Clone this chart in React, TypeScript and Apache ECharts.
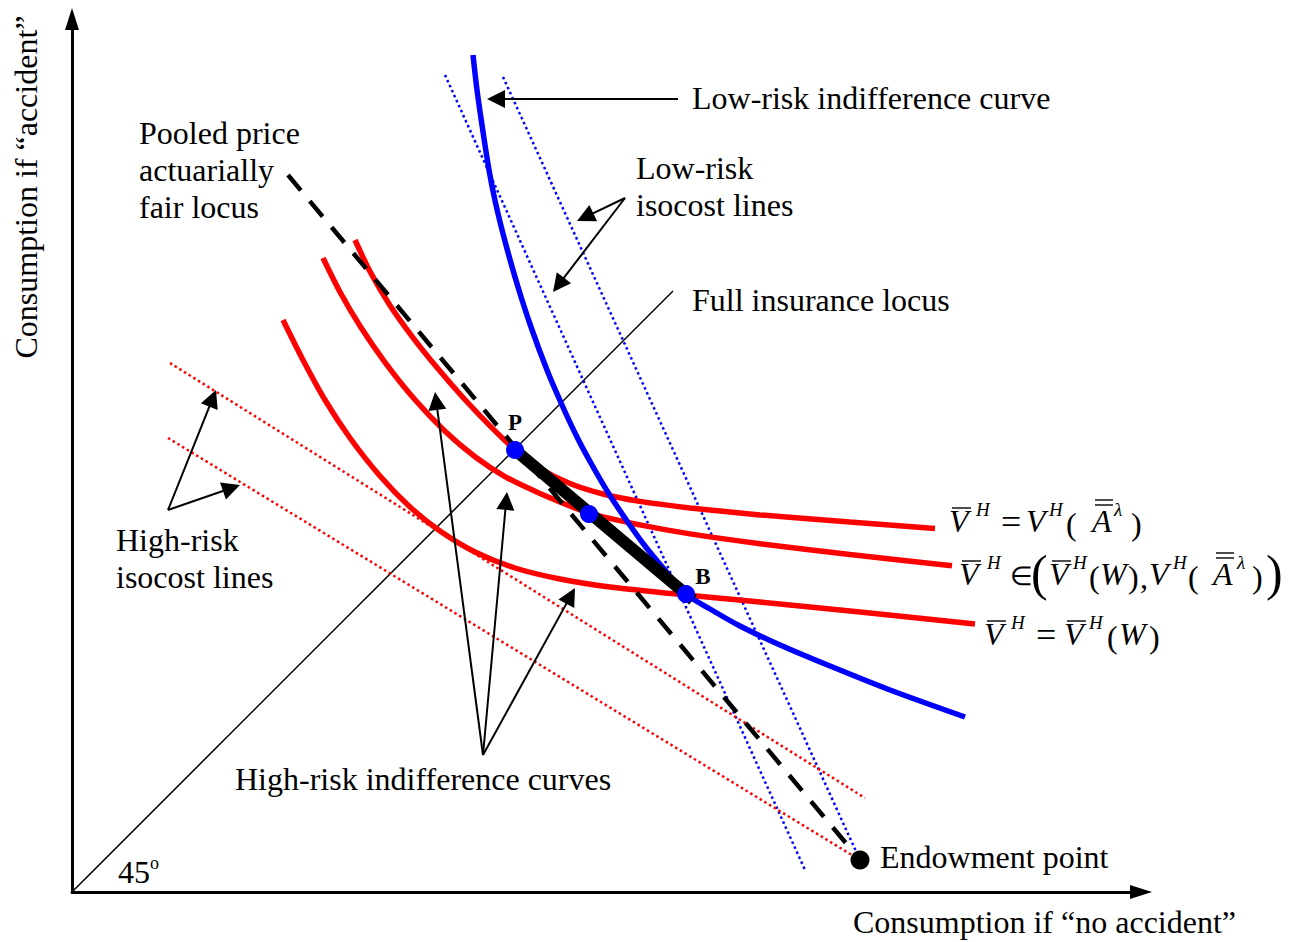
import React, { useEffect, useRef } from "react";
import * as echarts from "echarts";

const FONT = "'Liberation Serif', 'Times New Roman', serif";

// Diagram units: origin at the axes' intersection, 1 unit = 1 screen pixel.
const lowRiskIC: [number, number][] = [
  [401, 837], [405, 802], [410, 767], [417, 722], [424, 687], [434, 647], [446, 605],
  [459, 565], [475, 522], [490, 487], [505, 455], [520, 427], [537, 398], [555, 371],
  [573, 346], [592, 323], [614, 298], [638, 283], [668, 266], [708, 247], [758, 226],
  [818, 202], [893, 175],
];
const highRiskICTop: [number, number][] = [
  [283, 652], [298, 620.5], [318, 586.5], [340, 555.7], [365, 524.4], [391, 494.5],
  [418, 466.1], [443, 442.3], [468, 423.5], [498, 408.5], [531, 398], [568, 390.6],
  [618, 384.1], [688, 377.1], [778, 369.9], [863, 363.5],
];
const highRiskICMid: [number, number][] = [
  [251, 634], [268, 600], [288, 566], [313, 529.7], [343, 492.2], [373, 460.7],
  [403, 435.2], [433, 415.4], [468, 398.6], [518, 378.6], [568, 367.1], [618, 358.1],
  [688, 348.3], [778, 337.5], [880, 326.3],
];
const highRiskICLow: [number, number][] = [
  [211, 572], [231, 532], [253, 492], [278, 454], [308, 416], [338, 385], [368, 361],
  [403, 340], [443, 324], [488, 313], [538, 305], [614, 297], [688, 290], [788, 280],
  [903, 268],
];
const pooledLocus: [number, number][] = [[216, 717], [788, 32]];
const fullInsurance: [number, number][] = [[0, 0], [601, 601]];
const lowIsocostA: [number, number][] = [[373, 817], [733, 22]];
const lowIsocostB: [number, number][] = [[431, 815], [788, 32]];
const highIsocostA: [number, number][] = [[98, 529], [793, 94]];
const highIsocostB: [number, number][] = [[96, 454], [788, 32]];
const contractSegment: [number, number][] = [[443, 442], [621, 292]];
const bluePoints: [number, number][] = [[443, 442], [517, 378], [614, 298]];
const endowment: [number, number][] = [[788, 32]];

type Seg = [[number, number], [number, number]];
const arrowLowIC: Seg[] = [[[606, 793], [415, 793]]];
const arrowsLowIso: Seg[] = [[[553, 694], [505, 671]], [[553, 694], [481, 600]]];
const arrowsHighIso: Seg[] = [[[96, 382], [144, 502]], [[96, 382], [168, 407]]];
const arrowsHighIC: Seg[] = [
  [[411, 137], [363, 500]], [[411, 137], [435, 400]], [[411, 137], [503, 304]],
];

// Formula glyphs: [text, x, dy from formula centre, style]
type Tok = [string, number, number, string];
const formula1: Tok[] = [
  ["V", 949, 0, "i"], ["H", 976, -12, "s"], ["=", 1001, 1, "e"], ["V", 1026, 0, "i"],
  ["H", 1049, -12, "s"], ["(", 1066, 3, "n"], ["A", 1092, 0, "i"], ["\u03BB", 1114, -12, "s"],
  [")", 1131, 3, "n"],
];
const formula1Bars: [number, number, number][] = [[952, 971, -13], [1095, 1113, -21], [1095, 1113, -16]];
const formula2: Tok[] = [
  ["V", 959, 0, "i"], ["H", 987, -12, "s"], ["\u2208", 1010, 2, "m"], ["(", 1031, -1, "p"],
  ["V", 1049, 0, "i"], ["H", 1073, -12, "s"], ["(", 1089, 3, "n"], ["W", 1100, 0, "i"],
  [")", 1128, 3, "n"], [",", 1140, 3, "n"], ["V", 1149, 0, "i"], ["H", 1173, -12, "s"],
  ["(", 1188, 3, "n"], ["A", 1213, 0, "i"], ["\u03BB", 1237, -12, "s"], [")", 1252, 3, "n"],
  [")", 1266, -1, "p"],
];
const formula2Bars: [number, number, number][] = [
  [962, 981, -13], [1052, 1071, -13], [1216, 1234, -21], [1216, 1234, -16],
];
const formula3: Tok[] = [
  ["V", 984, 0, "i"], ["H", 1011, -12, "s"], ["=", 1036, 1, "e"], ["V", 1064, 0, "i"],
  ["H", 1089, -12, "s"], ["(", 1107, 3, "n"], ["W", 1119, 0, "i"], [")", 1149, 3, "n"],
];
const formula3Bars: [number, number, number][] = [[987, 1006, -13], [1067, 1086, -13]];

const ARROW_LEN = 18;
function toArrowData(segs: Seg[]) {
  return segs.map(([a, b]) => {
    const dx = b[0] - a[0];
    const dy = b[1] - a[1];
    const len = Math.sqrt(dx * dx + dy * dy);
    const k = (len - ARROW_LEN / 2) / len;
    return { coords: [a, [a[0] + dx * k, a[1] + dy * k]] };
  });
}

function lineSeries(data: [number, number][], color: string, width: number, type: any = "solid", smooth: any = false, z = 2) {
  return {
    type: "line",
    data,
    smooth,
    z,
    symbol: "none",
    showSymbol: false,
    clip: false,
    silent: true,
    lineStyle: { color, width, type, cap: "butt" },
  };
}

const text = (t: string, x: number, y: number, extra: any = {}, rotation = 0) => ({
  type: "text",
  x,
  y,
  rotation,
  silent: true,
  style: {
    text: t,
    fontSize: 32,
    fontFamily: FONT,
    fill: "#000",
    align: "left",
    verticalAlign: "middle",
    lineHeight: 37,
    ...extra,
  },
});

const tokStyles: Record<string, any> = {
  i: { fontSize: 32, fontStyle: "italic" },
  n: { fontSize: 32 },
  e: { fontSize: 36 },
  m: { fontSize: 26 },
  s: { fontSize: 19, fontStyle: "italic" },
  p: { fontSize: 50 },
};

function formulaGraphics(tokens: Tok[], bars: [number, number, number][], cy: number) {
  const out: any[] = tokens.map(([t, x, dy, st]) => text(t, x, cy + dy, tokStyles[st]));
  bars.forEach(([x1, x2, dy]) => {
    out.push({
      type: "line",
      silent: true,
      shape: { x1, y1: cy + dy, x2, y2: cy + dy },
      style: { stroke: "#000", lineWidth: 1.4 },
    });
  });
  return out;
}

export default function App() {
  const ref = useRef<HTMLDivElement>(null);
  useEffect(() => {
    const chart = echarts.init(ref.current!, null, { renderer: "svg" });
    const axisCommon = {
      type: "value",
      splitLine: { show: false },
      axisTick: { show: false },
      axisLabel: { show: false },
      axisLine: {
        show: true,
        onZero: false,
        symbol: ["none", "triangle"],
        symbolSize: [14, 22],
        lineStyle: { color: "#000", width: 3 },
      },
    };
    chart.setOption({
      animation: false,
      backgroundColor: "#fff",
      grid: { left: 72, top: 19, right: 152, bottom: 50 },
      xAxis: { ...axisCommon, min: 0, max: 1069 },
      yAxis: { ...axisCommon, min: 0, max: 873 },
      series: [
        lineSeries(fullInsurance, "#000", 1.5),
        lineSeries(lowIsocostA, "#0000ff", 2.5, [2.5, 3]),
        lineSeries(lowIsocostB, "#0000ff", 2.5, [2.5, 3]),
        lineSeries(highIsocostA, "#ff0000", 2.5, [2.5, 3]),
        lineSeries(highIsocostB, "#ff0000", 2.5, [2.5, 3]),
        lineSeries(highRiskICTop, "#ff0000", 5.5, "solid", 0.25),
        lineSeries(highRiskICMid, "#ff0000", 5.5, "solid", 0.25),
        lineSeries(highRiskICLow, "#ff0000", 5.5, "solid", 0.25),
        lineSeries(lowRiskIC, "#0000ff", 5.5, "solid", 0.3),
        lineSeries(pooledLocus, "#000", 4.5, [20, 14], false, 3),
        lineSeries(contractSegment, "#000", 12, "solid", false, 4),
        ...[arrowLowIC, arrowsLowIso, arrowsHighIso, arrowsHighIC].map((segs) => ({
          type: "lines",
          coordinateSystem: "cartesian2d",
          silent: true,
          z: 4,
          symbol: ["none", "triangle"],
          symbolSize: [12, ARROW_LEN],
          lineStyle: { color: "#000", width: 2, opacity: 1, curveness: 0 },
          data: toArrowData(segs),
        })),
        {
          type: "scatter",
          data: bluePoints,
          symbol: "circle",
          symbolSize: 18,
          z: 6,
          silent: true,
          itemStyle: { color: "#0000ff", opacity: 1 },
        },
        {
          type: "scatter",
          data: endowment,
          symbol: "circle",
          symbolSize: 19,
          z: 6,
          silent: true,
          itemStyle: { color: "#000", opacity: 1 },
        },
      ],
      graphic: [
        text("Low-risk indifference curve", 692, 98),
        text("Low-risk\nisocost lines", 636, 186),
        text("Pooled price\nactuarially\nfair locus", 139, 170),
        text("Full insurance locus", 692, 300),
        text("High-risk\nisocost lines", 116, 558),
        text("High-risk indifference curves", 235, 779),
        text("Endowment point", 880, 857),
        text("Consumption if \u201Cno accident\u201D", 853, 922),
        text("Consumption if \u201Caccident\u201D", 26, 187, { align: "center" }, Math.PI / 2),
        text("{n|45}{s|o}", 118, 872, {
          rich: {
            n: { fontSize: 32, fontFamily: FONT, lineHeight: 36 },
            s: { fontSize: 18, fontFamily: FONT, lineHeight: 20, verticalAlign: "top" },
          },
        }),
        text("P", 515, 422, { fontSize: 23, fontWeight: "bold", align: "center" }),
        text("B", 703, 576, { fontSize: 23, fontWeight: "bold", align: "center" }),
        ...formulaGraphics(formula1, formula1Bars, 521),
        ...formulaGraphics(formula2, formula2Bars, 574),
        ...formulaGraphics(formula3, formula3Bars, 634),
      ],
    });
    return () => chart.dispose();
  }, []);
  return (
    <div
      ref={ref}
      style={{ position: "fixed", left: 0, top: 0, width: 1293, height: 942, background: "#fff" }}
    />
  );
}
